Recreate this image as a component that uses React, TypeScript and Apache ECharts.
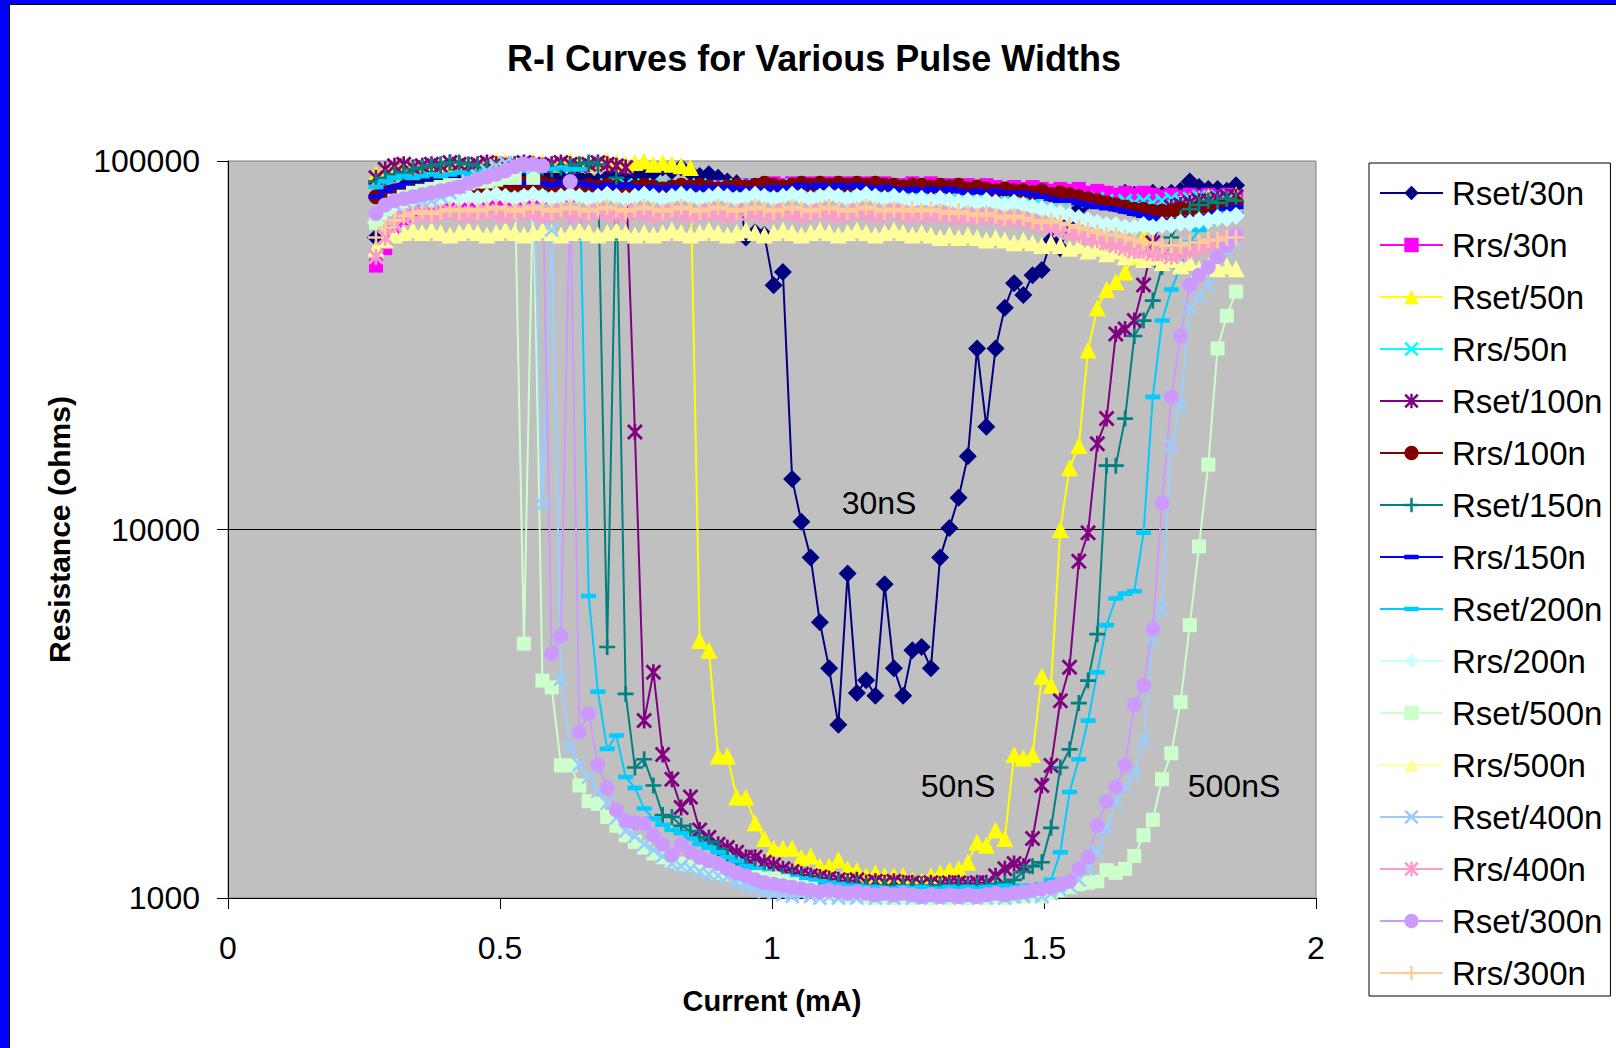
import React, { useEffect, useRef } from "react";
import * as echarts from "echarts";

const FONT = "'Liberation Sans', Arial, Helvetica, sans-serif";

// Current (mA) sample points shared by all curves
const current = [
  0.272, 0.289, 0.306, 0.323, 0.340, 0.357, 0.374, 0.391, 0.408, 0.425,
  0.442, 0.459, 0.476, 0.493, 0.510, 0.527, 0.544, 0.561, 0.578, 0.595,
  0.612, 0.629, 0.646, 0.663, 0.680, 0.697, 0.714, 0.731, 0.748, 0.765,
  0.782, 0.799, 0.816, 0.833, 0.850, 0.867, 0.884, 0.901, 0.918, 0.935,
  0.952, 0.969, 0.986, 1.003, 1.020, 1.037, 1.054, 1.071, 1.088, 1.105,
  1.122, 1.139, 1.156, 1.173, 1.190, 1.207, 1.224, 1.241, 1.258, 1.275,
  1.292, 1.309, 1.326, 1.343, 1.360, 1.377, 1.394, 1.411, 1.428, 1.445,
  1.462, 1.479, 1.496, 1.513, 1.530, 1.547, 1.564, 1.581, 1.598, 1.615,
  1.632, 1.649, 1.666, 1.683, 1.700, 1.717, 1.734, 1.751, 1.768, 1.785,
  1.802, 1.819, 1.836, 1.853,
];

const rset30 = [
  62000, 72000, 80000, 85000, 88000, 90000, 90000, 91000, 92000, 93000,
  94000, 95000, 96000, 97000, 96000, 95000, 94000, 93000, 92000, 91000,
  90000, 89000, 90000, 89000, 88000, 90000, 91000, 89000, 90000, 92000,
  93000, 96000, 94000, 96000, 93000, 91000, 92000, 90000, 88000, 87000,
  62000, 64000, 63000, 46000, 50000, 13700, 10500, 8400, 5600, 4200,
  2950, 7600, 3600, 3900, 3540, 7100, 4200, 3540, 4700, 4800,
  4200, 8400, 10100, 12200, 15800, 31000, 19000, 31000, 40000, 46600,
  43300, 49000, 50600, 61000, 58000, 68000, 74000, 78000, 80000, 81000,
  80000, 82000, 81000, 80000, 82000, 81000, 82000, 83000, 88000, 85000,
  84000, 84000, 83000, 86000,
];

const rrs30 = [
  52000, 58000, 64000, 70000, 74000, 76000, 77000, 78000, 78000, 79000,
  78000, 79000, 80000, 79000, 80000, 79000, 80000, 81000, 80000, 81000,
  82000, 81000, 82000, 81000, 82000, 83000, 82000, 83000, 82000, 83000,
  84000, 83000, 84000, 83000, 84000, 85000, 84000, 85000, 84000, 85000,
  86000, 85000, 86000, 87000, 86000, 87000, 86000, 87000, 86000, 87000,
  86000, 87000, 86000, 87000, 86000, 87000, 86000, 86000, 87000, 86000,
  87000, 86000, 86000, 85000, 86000, 85000, 86000, 85000, 84000, 85000,
  84000, 85000, 84000, 83000, 84000, 83000, 84000, 82000, 83000, 82000,
  81000, 82000, 81000, 82000, 81000, 80000, 81000, 80000, 81000, 80000,
  81000, 80000, 81000, 80000,
];

const rset50 = [
  92000, 95000, 97000, 98000, 96000, 97000, 96000, 97000, 98000, 99000,
  98000, 97000, 99000, 100000, 99000, 98000, 99000, 100000, 99000, 98000,
  99000, 100000, 99000, 98000, 99000, 100000, 99000, 98000, 99000, 100000,
  98000, 99000, 98000, 97000, 96000, 5000, 4700, 2430, 2430, 1880,
  1880, 1600, 1450, 1365, 1365, 1365, 1290, 1300, 1220, 1220,
  1270, 1200, 1190, 1150, 1170, 1150, 1150, 1150, 1120, 1110,
  1150, 1170, 1190, 1200, 1250, 1420, 1390, 1530, 1450, 2450,
  2400, 2450, 4000, 3780, 10000, 14700, 16900, 30700, 40000, 44800,
  47000, 50000, 55000, 62000, 68000, 72000, 75000, 77000, 78000, 79000,
  80000, 78000, 80000, 81000,
];

const rrs50 = [
  68000, 74000, 78000, 80000, 81000, 82000, 83000, 82000, 83000, 84000,
  83000, 84000, 85000, 84000, 85000, 84000, 85000, 86000, 85000, 84000,
  85000, 86000, 85000, 84000, 85000, 86000, 85000, 86000, 85000, 86000,
  85000, 86000, 85000, 84000, 85000, 86000, 85000, 84000, 85000, 86000,
  85000, 86000, 85000, 84000, 85000, 86000, 85000, 84000, 85000, 86000,
  85000, 86000, 85000, 86000, 85000, 84000, 85000, 84000, 85000, 84000,
  83000, 84000, 83000, 84000, 83000, 82000, 83000, 82000, 81000, 82000,
  81000, 80000, 81000, 80000, 79000, 80000, 79000, 78000, 79000, 78000,
  77000, 78000, 77000, 78000, 77000, 78000, 79000, 78000, 79000, 80000,
  79000, 80000, 79000, 80000,
];

const rset100 = [
  90000, 95000, 97000, 98000, 96000, 97000, 98000, 97000, 99000, 98000,
  97000, 98000, 99000, 98000, 97000, 98000, 99000, 98000, 97000, 98000,
  99000, 98000, 97000, 98000, 99000, 98000, 97000, 96000, 18400, 3030,
  4100, 2450, 2100, 1760, 1880, 1530, 1460, 1400, 1370, 1330,
  1290, 1290, 1250, 1230, 1200, 1180, 1160, 1150, 1140, 1130,
  1120, 1110, 1120, 1100, 1110, 1100, 1110, 1100, 1100, 1090,
  1100, 1090, 1100, 1100, 1090, 1100, 1100, 1150, 1200, 1240,
  1220, 1450, 2020, 2290, 3430, 4230, 8200, 9800, 17100, 20000,
  33900, 35000, 36900, 46100, 60000, 70000, 75000, 76000, 77000, 78000,
  78000, 79000, 80000, 80000,
];

const rrs100 = [
  80000, 82000, 83000, 82000, 83000, 84000, 83000, 84000, 85000, 84000,
  85000, 84000, 85000, 86000, 85000, 86000, 87000, 86000, 87000, 86000,
  85000, 86000, 85000, 86000, 85000, 86000, 85000, 84000, 85000, 86000,
  85000, 84000, 85000, 86000, 85000, 86000, 85000, 84000, 85000, 86000,
  85000, 86000, 87000, 86000, 85000, 86000, 87000, 86000, 87000, 86000,
  87000, 86000, 87000, 86000, 87000, 86000, 86000, 85000, 86000, 86000,
  85000, 86000, 85000, 86000, 84000, 85000, 84000, 83000, 84000, 83000,
  83000, 82000, 83000, 81000, 82000, 81000, 80000, 79000, 78000, 77000,
  76000, 75000, 74000, 74000, 73000, 73000, 73000, 74000, 74000, 75000,
  75000, 76000, 76000, 77000,
];

const rset150 = [
  88000, 90000, 92000, 93000, 95000, 96000, 97000, 98000, 99000, 99000,
  98000, 97000, 96000, 95000, 96000, 97000, 98000, 97000, 96000, 95000,
  96000, 97000, 98000, 99000, 98000, 4800, 90000, 3580, 2260, 2380,
  2020, 1680, 1660, 1570, 1520, 1460, 1420, 1360, 1300, 1250,
  1230, 1200, 1180, 1160, 1150, 1140, 1130, 1120, 1110, 1100,
  1100, 1090, 1090, 1080, 1080, 1080, 1070, 1080, 1070, 1080,
  1070, 1080, 1070, 1080, 1070, 1080, 1080, 1090, 1100, 1120,
  1180, 1220, 1250, 1550, 2260, 2530, 3380, 3890, 5200, 14900,
  14900, 20000, 33500, 36900, 41800, 51600, 62000, 70000, 74000, 76000,
  78000, 77000, 79000, 78000,
];

const rrs150 = [
  80000, 83000, 85000, 86000, 85000, 86000, 87000, 86000, 87000, 88000,
  87000, 88000, 87000, 88000, 87000, 88000, 87000, 88000, 87000, 86000,
  87000, 86000, 87000, 86000, 85000, 86000, 85000, 86000, 85000, 84000,
  85000, 84000, 85000, 84000, 85000, 84000, 85000, 84000, 85000, 84000,
  84000, 83000, 84000, 85000, 84000, 85000, 86000, 85000, 86000, 85000,
  86000, 85000, 86000, 85000, 84000, 85000, 84000, 83000, 84000, 83000,
  84000, 83000, 84000, 83000, 82000, 83000, 82000, 83000, 82000, 82000,
  82000, 81000, 80000, 79000, 78000, 78000, 77000, 76000, 75000, 74500,
  74000, 73000, 72000, 71000, 70000, 69000, 69000, 69000, 70000, 70000,
  71000, 72500, 74000, 75000,
];

const rset200 = [
  85000, 88000, 90000, 91000, 90000, 91000, 92000, 91000, 92000, 93000,
  92000, 93000, 94000, 93000, 94000, 95000, 94000, 95000, 96000, 95000,
  96000, 95000, 95000, 6600, 3630, 2540, 2760, 2130, 1990, 1750,
  1640, 1580, 1530, 1500, 1450, 1400, 1370, 1330, 1290, 1260,
  1220, 1200, 1180, 1160, 1150, 1140, 1130, 1120, 1110, 1100,
  1090, 1080, 1080, 1070, 1070, 1060, 1060, 1070, 1060, 1070,
  1060, 1060, 1070, 1060, 1070, 1060, 1070, 1070, 1080, 1070,
  1080, 1080, 1090, 1120, 1330, 1940, 2380, 3030, 4100, 5500,
  6500, 6700, 6800, 9800, 22900, 36900, 44800, 51600, 60000, 65000,
  68000, 70000, 72000, 72000,
];

const rrs200 = [
  68000, 72000, 75000, 77000, 78000, 79000, 78000, 79000, 80000, 79000,
  80000, 79000, 80000, 81000, 80000, 79000, 80000, 81000, 80000, 79000,
  80000, 81000, 80000, 79000, 80000, 81000, 80000, 79000, 80000, 81000,
  80000, 79000, 80000, 81000, 80000, 79000, 80000, 81000, 80000, 79000,
  80000, 81000, 80000, 79000, 80000, 81000, 80000, 79000, 80000, 81000,
  80000, 79000, 80000, 81000, 80000, 79000, 80000, 79000, 78000, 79000,
  78000, 79000, 78000, 77000, 78000, 77000, 78000, 77000, 76000, 77000,
  76000, 75000, 74000, 73000, 72000, 71000, 70000, 69000, 68000, 67000,
  67000, 66000, 66000, 67000, 66000, 67000, 67000, 68000, 68000, 69000,
  69000, 70000, 70000, 71000,
];

const rset500 = [
  68000, 74000, 78000, 80000, 82000, 83000, 84000, 85000, 86000, 86000,
  87000, 88000, 88000, 89000, 90000, 90000, 4900, 90000, 3890, 3730,
  2290, 2290, 2020, 1830, 1800, 1660, 1570, 1480, 1420, 1370,
  1320, 1290, 1260, 1240, 1230, 1220, 1190, 1170, 1160, 1150,
  1140, 1140, 1130, 1130, 1110, 1090, 1070, 1060, 1040, 1030,
  1020, 1010, 1020, 1010, 1000, 1010, 1000, 1010, 1000, 1010,
  1000, 1010, 1000, 1010, 1000, 1010, 1000, 1010, 1000, 1010,
  1010, 1020, 1010, 1030, 1050, 1070, 1090, 1100, 1110, 1190,
  1170, 1200, 1300, 1480, 1630, 2100, 2470, 3400, 5500, 9000,
  15000, 31000, 38000, 44200,
];

const rrs500 = [
  58000, 61000, 63000, 64000, 65000, 64000, 65000, 64000, 63000, 64000,
  65000, 64000, 63000, 64000, 65000, 64000, 63000, 64000, 65000, 64000,
  63000, 64000, 65000, 64000, 63000, 64000, 65000, 64000, 63000, 64000,
  63000, 64000, 65000, 64000, 63000, 64000, 65000, 64000, 63000, 64000,
  65000, 64000, 63000, 64000, 65000, 64000, 63000, 64000, 65000, 64000,
  63000, 64000, 65000, 64000, 63000, 64000, 65000, 64000, 63000, 64000,
  63000, 62000, 63000, 62000, 63000, 62000, 61000, 62000, 61000, 60000,
  61000, 60000, 59000, 60000, 59000, 58000, 59000, 57000, 58000, 56000,
  57000, 55000, 56000, 54000, 55000, 53000, 54000, 52000, 53000, 51000,
  52000, 51000, 52000, 51000,
];

const rset400 = [
  55000, 62000, 68000, 72000, 74000, 76000, 78000, 80000, 82000, 85000,
  88000, 91000, 94000, 97000, 99000, 98000, 97000, 96000, 11700, 65000,
  3930, 2560, 2300, 2130, 1950, 1810, 1650, 1520, 1470, 1400,
  1350, 1300, 1240, 1220, 1200, 1180, 1160, 1150, 1140, 1100,
  1080, 1060, 1040, 1030, 1020, 1010, 1020, 1010, 1000, 1010,
  1000, 1010, 1000, 1010, 1000, 1010, 1000, 1010, 1000, 1010,
  1000, 1010, 1000, 1010, 1000, 1010, 1000, 1010, 1000, 1010,
  1010, 1020, 1010, 1030, 1050, 1080, 1120, 1200, 1330, 1550,
  1830, 2000, 2170, 2670, 5100, 6100, 16900, 21700, 40000, 43000,
  46000, 54000, 57000, 60000,
];

const rrs400 = [
  55000, 62000, 67000, 70000, 71000, 72000, 71000, 72000, 73000, 72000,
  71000, 72000, 73000, 72000, 71000, 72000, 73000, 72000, 71000, 72000,
  73000, 72000, 71000, 72000, 73000, 72000, 71000, 72000, 73000, 72000,
  71000, 72000, 73000, 72000, 71000, 72000, 73000, 72000, 71000, 72000,
  73000, 72000, 71000, 72000, 73000, 72000, 71000, 72000, 73000, 72000,
  71000, 72000, 73000, 72000, 71000, 72000, 73000, 72000, 71000, 72000,
  71000, 72000, 71000, 70000, 71000, 70000, 71000, 70000, 69000, 70000,
  69000, 68000, 67000, 66000, 65000, 64000, 63000, 62000, 61000, 60000,
  59000, 58000, 57000, 57000, 56000, 56000, 55000, 56000, 57000, 58000,
  59000, 60000, 62000, 63000,
];

const rset300 = [
  72000, 76000, 78000, 79000, 80000, 81000, 82000, 83000, 84000, 85000,
  87000, 89000, 90500, 92000, 94000, 96500, 98000, 98000, 97000, 4600,
  5150, 88000, 2820, 3160, 2300, 1990, 1730, 1620, 1600, 1590,
  1480, 1400, 1310, 1400, 1330, 1290, 1260, 1240, 1200, 1170,
  1150, 1120, 1100, 1090, 1080, 1070, 1060, 1050, 1040, 1050,
  1040, 1030, 1040, 1030, 1020, 1030, 1020, 1030, 1020, 1010,
  1020, 1010, 1020, 1010, 1020, 1010, 1020, 1030, 1020, 1030,
  1040, 1050, 1060, 1070, 1090, 1110, 1200, 1290, 1570, 1830,
  2000, 2290, 3340, 3780, 5370, 11800, 22900, 33500, 46000, 49000,
  51600, 55000, 59000, 63000,
];

const rrs300 = [
  62000, 66000, 69000, 71000, 72000, 73000, 72000, 73000, 74000, 73000,
  74000, 73000, 74000, 75000, 74000, 73000, 74000, 75000, 74000, 73000,
  74000, 75000, 74000, 73000, 74000, 75000, 74000, 73000, 74000, 75000,
  74000, 73000, 74000, 75000, 74000, 73000, 74000, 75000, 74000, 73000,
  74000, 75000, 74000, 73000, 74000, 75000, 74000, 73000, 74000, 75000,
  74000, 73000, 74000, 75000, 74000, 73000, 74000, 73000, 74000, 73000,
  74000, 73000, 72000, 73000, 72000, 71000, 72000, 71000, 70000, 71000,
  70000, 69000, 68000, 69000, 68000, 67000, 66000, 65000, 64000, 63000,
  63000, 62000, 61000, 60000, 60000, 59000, 59000, 59000, 60000, 60000,
  61000, 61000, 62000, 62000,
];

const xTicks = [0, 0.5, 1, 1.5, 2];
const yTicks = [1000, 10000, 100000];

const annotations = [
  { text: "30nS", x: 879, y: 503 },
  { text: "50nS", x: 958, y: 786 },
  { text: "500nS", x: 1234, y: 786 },
];

const X_PATH =
  "path://M-6,-4.5L-4.5,-6L0,-1.5L4.5,-6L6,-4.5L1.5,0L6,4.5L4.5,6L0,1.5L-4.5,6L-6,4.5L-1.5,0Z";
const PLUS_PATH =
  "path://M-1,-6L1,-6L1,-1L6,-1L6,1L1,1L1,6L-1,6L-1,1L-6,1L-6,-1L-1,-1Z";
const STAR_PATH =
  "path://M-6,-4.5L-4.5,-6L0,-1.5L4.5,-6L6,-4.5L1.5,0L6,4.5L4.5,6L0,1.5L-4.5,6L-6,4.5L-1.5,0Z M-1,-6L1,-6L1,6L-1,6Z";
const DASH_PATH =
  "path://M-6.5,-6.5L-6.5,-6.5Z M-6.5,-2L6.5,-2L6.5,2L-6.5,2Z M6.5,6.5L6.5,6.5Z";

const seriesDefs = [
  { name: "Rset/30n", color: "#000080", symbol: "diamond", size: 18, values: rset30 },
  { name: "Rrs/30n", color: "#FF00FF", symbol: "rect", size: 14, values: rrs30 },
  { name: "Rset/50n", color: "#FFFF00", symbol: "triangle", size: 17, values: rset50 },
  { name: "Rrs/50n", color: "#00FFFF", symbol: X_PATH, size: 15, values: rrs50 },
  { name: "Rset/100n", color: "#800080", symbol: STAR_PATH, size: 16, values: rset100 },
  { name: "Rrs/100n", color: "#800000", symbol: "circle", size: 15, values: rrs100 },
  { name: "Rset/150n", color: "#008080", symbol: PLUS_PATH, size: 16, values: rset150 },
  { name: "Rrs/150n", color: "#0000FF", symbol: DASH_PATH, size: 15, values: rrs150 },
  { name: "Rset/200n", color: "#00CCFF", symbol: DASH_PATH, size: 15, values: rset200 },
  { name: "Rrs/200n", color: "#CCFFFF", symbol: "diamond", size: 18, values: rrs200 },
  { name: "Rset/500n", color: "#CCFFCC", symbol: "rect", size: 14, values: rset500 },
  { name: "Rrs/500n", color: "#FFFF99", symbol: "triangle", size: 17, values: rrs500 },
  { name: "Rset/400n", color: "#99CCFF", symbol: X_PATH, size: 15, values: rset400 },
  { name: "Rrs/400n", color: "#FF99CC", symbol: STAR_PATH, size: 16, values: rrs400 },
  { name: "Rset/300n", color: "#CC99FF", symbol: "circle", size: 15, values: rset300 },
  { name: "Rrs/300n", color: "#FFCC99", symbol: PLUS_PATH, size: 16, values: rrs300 },
];

export default function App() {
  const ref = useRef<HTMLDivElement>(null);

  useEffect(() => {
    if (!ref.current) return;
    const chart = echarts.init(ref.current, null, { renderer: "svg" });

    const series = seriesDefs.map((d) => ({
      name: d.name,
      type: "line",
      data: current.map((x, i) => [x, d.values[i]]),
      symbol: d.symbol,
      symbolSize: d.size,
      showSymbol: true,
      lineStyle: { color: d.color, width: 2 },
      itemStyle: { color: d.color, borderWidth: 0 },
      emphasis: { disabled: true },
      silent: true,
      clip: true,
    }));

    const graphics: any[] = [
      { type: "rect", shape: { x: 0, y: 0, width: 1616, height: 4 }, style: { fill: "#0000FF" }, z: 100 },
      { type: "rect", shape: { x: 0, y: 0, width: 9, height: 1048 }, style: { fill: "#0000FF" }, z: 100 },
      { type: "rect", shape: { x: 9, y: 4, width: 1607, height: 1 }, style: { fill: "#000000" }, z: 100 },
      { type: "rect", shape: { x: 9, y: 4, width: 1, height: 1044 }, style: { fill: "#000000" }, z: 100 },
      {
        type: "text",
        x: 814,
        y: 58,
        z: 100,
        style: {
          text: "R-I Curves for Various Pulse Widths",
          font: `bold 36px ${FONT}`,
          fill: "#000",
          textAlign: "center",
          textVerticalAlign: "middle",
          align: "center",
          verticalAlign: "middle",
        },
      },
      ...annotations.map((a) => ({
        type: "text",
        x: a.x,
        y: a.y,
        z: 100,
        style: {
          text: a.text,
          font: `32px ${FONT}`,
          fill: "#000",
          textAlign: "center",
          textVerticalAlign: "middle",
          align: "center",
          verticalAlign: "middle",
        },
      })),
    ];

    chart.setOption({
      animation: false,
      backgroundColor: "#FFFFFF",
      textStyle: { fontFamily: FONT },
      grid: {
        left: 228,
        top: 161,
        right: 300,
        bottom: 150,
        show: true,
        backgroundColor: "#C0C0C0",
        borderColor: "#808080",
        borderWidth: 1,
      },
      xAxis: {
        type: "value",
        min: xTicks[0],
        max: xTicks[xTicks.length - 1],
        interval: 0.5,
        axisLine: { show: true, onZero: false, lineStyle: { color: "#000", width: 1 } },
        axisTick: { show: true, length: 11, lineStyle: { color: "#000" } },
        axisLabel: { fontSize: 32, color: "#000", fontFamily: FONT, margin: 34 },
        splitLine: { show: false },
        name: "Current (mA)",
        nameLocation: "middle",
        nameGap: 88,
        nameTextStyle: { fontSize: 29, fontWeight: "bold", color: "#000", fontFamily: FONT },
      },
      yAxis: {
        type: "log",
        logBase: 10,
        min: yTicks[0],
        max: yTicks[yTicks.length - 1],
        axisLine: { show: true, onZero: false, lineStyle: { color: "#000", width: 1 } },
        axisTick: { show: true, length: 11, lineStyle: { color: "#000" } },
        minorTick: { show: false },
        axisLabel: {
          fontSize: 32,
          color: "#000",
          fontFamily: FONT,
          margin: 28,
          formatter: (v: number) => String(Math.round(v)),
        },
        splitLine: {
          show: true,
          showMinLine: false,
          showMaxLine: false,
          lineStyle: { color: "#000", width: 1 },
        },
        name: "Resistance (ohms)",
        nameLocation: "middle",
        nameGap: 154,
        nameRotate: 90,
        nameTextStyle: { fontSize: 30, fontWeight: "bold", color: "#000", fontFamily: FONT },
      },
      legend: {
        orient: "vertical",
        left: 1369,
        top: 163,
        padding: [13, 8, 6, 10],
        itemWidth: 63,
        itemHeight: 18,
        itemGap: 18,
        borderColor: "#000",
        borderWidth: 1,
        backgroundColor: "#FFFFFF",
        selectedMode: false,
        textStyle: {
          fontSize: 33,
          lineHeight: 34,
          color: "#000",
          fontFamily: FONT,
          padding: [0, 0, 0, 4],
        },
        data: seriesDefs.map((d) => d.name),
      },
      graphic: graphics,
      series,
    });

    return () => {
      chart.dispose();
    };
  }, []);

  return (
    <div
      ref={ref}
      style={{ position: "fixed", left: 0, top: 0, width: 1616, height: 1048, background: "#fff" }}
    />
  );
}
